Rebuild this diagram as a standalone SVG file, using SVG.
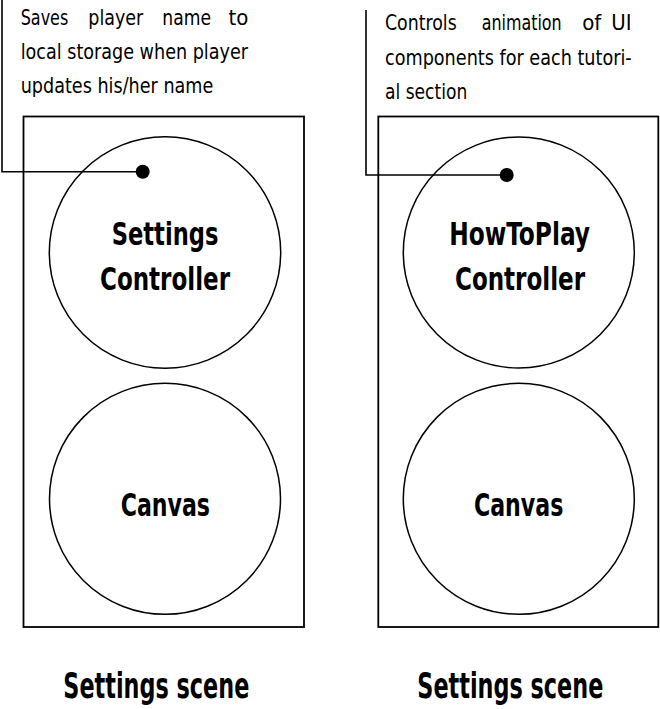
<svg xmlns="http://www.w3.org/2000/svg" width="660" height="709" viewBox="0 0 660 709">
  <style>
    .frame { fill: none; stroke: #000; stroke-width: 1.8; }
    .node { fill: #fff; stroke: #000; stroke-width: 1.5; }
    .lead { fill: none; stroke: #000; stroke-width: 1.6; }
    .dot { fill: #000; }
    .note { font-family: "Liberation Sans Narrow", "DejaVu Sans Condensed", "Liberation Sans", sans-serif; font-size: 22px; fill: #000; }
    .label { font-family: "Liberation Sans Narrow", "DejaVu Sans Condensed", "Liberation Sans", sans-serif; font-weight: bold; font-size: 32px; fill: #000; }
    .title { font-family: "Liberation Sans Narrow", "DejaVu Sans Condensed", "Liberation Sans", sans-serif; font-weight: bold; font-size: 35px; fill: #000; }
  </style>
  <rect width="660" height="709" fill="#fff"/>

  <!-- scene frames -->
  <g id="settings-scene">
    <rect class="frame" x="23.5" y="116.5" width="280.5" height="510.5"/>
    <text class="title" x="63.3" y="698" textLength="186" lengthAdjust="spacingAndGlyphs">Settings scene</text>
  </g>
  <g id="howtoplay-scene">
    <rect class="frame" x="378.3" y="116.5" width="280" height="510.5"/>
    <text class="title" x="417.3" y="698" textLength="186" lengthAdjust="spacingAndGlyphs">Settings scene</text>
  </g>

  <!-- nodes -->
  <g id="settings-controller">
    <circle class="node" cx="165" cy="252.5" r="115.7"/>
    <text class="label" x="111.7" y="245" textLength="106.7" lengthAdjust="spacingAndGlyphs">Settings</text>
    <text class="label" x="100" y="290" textLength="130" lengthAdjust="spacingAndGlyphs">Controller</text>
  </g>
  <g id="settings-canvas">
    <circle class="node" cx="165" cy="498.8" r="115.5"/>
    <text class="label" x="120.7" y="516" textLength="89.3" lengthAdjust="spacingAndGlyphs">Canvas</text>
  </g>
  <g id="howtoplay-controller">
    <circle class="node" cx="518.8" cy="252.5" r="115.5"/>
    <text class="label" x="449.3" y="245" textLength="140.7" lengthAdjust="spacingAndGlyphs">HowToPlay</text>
    <text class="label" x="455" y="290" textLength="130" lengthAdjust="spacingAndGlyphs">Controller</text>
  </g>
  <g id="howtoplay-canvas">
    <circle class="node" cx="518.8" cy="498.8" r="115.5"/>
    <text class="label" x="474" y="516" textLength="89.3" lengthAdjust="spacingAndGlyphs">Canvas</text>
  </g>

  <!-- annotation callouts -->
  <g id="connectors">
    <polyline class="lead" points="2,0 2,171.7 142.7,171.7"/>
    <circle class="dot" cx="142.7" cy="171.7" r="7"/>
    <polyline class="lead" points="366,10 366,175 506.7,175"/>
    <circle class="dot" cx="506.7" cy="175" r="7"/>
  </g>

  <!-- justified first lines are set word by word -->
  <g id="settings-note">
    <text class="note" x="20.7" y="24.5" textLength="47.6" lengthAdjust="spacingAndGlyphs">Saves</text>
    <text class="note" x="88.3" y="24.5" textLength="55" lengthAdjust="spacingAndGlyphs">player</text>
    <text class="note" x="162.3" y="24.5" textLength="48.7" lengthAdjust="spacingAndGlyphs">name</text>
    <text class="note" x="248.3" y="24.5" text-anchor="end">to</text>
    <text class="note" x="20.7" y="59" textLength="227.3" lengthAdjust="spacingAndGlyphs">local storage when player</text>
    <text class="note" x="20.7" y="93" textLength="192.6" lengthAdjust="spacingAndGlyphs">updates his/her name</text>
  </g>
  <g id="howtoplay-note">
    <text class="note" x="385" y="29.5" textLength="71.7" lengthAdjust="spacingAndGlyphs">Controls</text>
    <text class="note" x="481.7" y="29.5" textLength="80" lengthAdjust="spacingAndGlyphs">animation</text>
    <text class="note" x="591.7" y="29.5" text-anchor="middle">of</text>
    <text class="note" x="631.7" y="29.5" text-anchor="end">UI</text>
    <text class="note" x="385" y="64.5" textLength="246.7" lengthAdjust="spacingAndGlyphs">components for each tutori-</text>
    <text class="note" x="385" y="99" textLength="82.3" lengthAdjust="spacingAndGlyphs">al section</text>
  </g>
</svg>
